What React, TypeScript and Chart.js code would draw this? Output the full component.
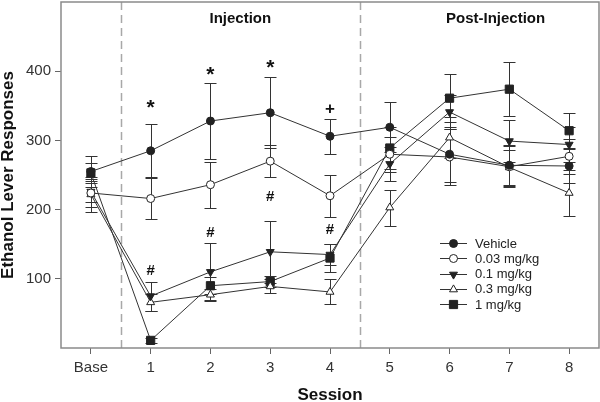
import React, { useEffect, useRef } from 'react';
import { Chart, registerables } from 'chart.js';

Chart.register(...registerables);

const sessionLabels = ['Base', '1', '2', '3', '4', '5', '6', '7', '8'];
const sessions = [0, 1, 2, 3, 4, 5, 6, 7, 8];

const vehicle = [255, 285, 328, 340, 306, 319, 280, 264, 263];
const vehicleErr = [22, 38, 55, 51, 25, 36, 40, 30, 25];
const dose003 = [224, 216, 236, 270, 220, 280, 276, 262, 277];
const dose003Err = [20, 30, 33, 23, 30, 25, 40, 30, 25];
const dose01 = [226, 75, 110, 139, 135, 266, 341, 299, 294];
const dose01Err = [15, 21, 42, 45, 15, 25, 25, 30, 25];
const dose03 = [222, 66, 77, 89, 81, 203, 304, 261, 224];
const dose03Err = [25, 12, 8, 10, 18, 26, 30, 25, 33];
const dose1 = [253, 11, 90, 96, 130, 289, 361, 374, 314];
const dose1Err = [15, 4, 12, 8, 20, 30, 35, 39, 25];

const seriesNames = ['Vehicle', '0.03 mg/kg', '0.1 mg/kg', '0.3 mg/kg', '1 mg/kg'];

const yTicks = [100, 200, 300, 400];
const phaseBoundaries = [0.5, 4.5];
const phaseLabels = ['Injection', 'Post-Injection'];
const phaseLabelX = [2.5, 6.77];
const phaseLabelY = [476, 476];

const starSessions = [1, 2, 3];
const starValues = [352, 400, 410];
const plusSessions = [4];
const plusValues = [345];
const hashSessions = [1, 2, 3, 4];
const hashValues = [112, 167, 218, 171];

const ink = '#222';
const FONT = '"Liberation Sans", Arial, sans-serif';

function mk(label: string, vals: number[], errs: number[], style: any) {
  return {
    label,
    data: sessions.map((x, i) => ({ x, y: vals[i] })),
    errors: errs,
    borderColor: '#333',
    borderWidth: 1,
    pointBorderColor: ink,
    pointBorderWidth: 1,
    pointHoverRadius: style.pointRadius,
    tension: 0,
    ...style,
  };
}

function marker(ctx: CanvasRenderingContext2D, ds: any, x: number, y: number) {
  const r = ds.pointRadius;
  ctx.save();
  ctx.fillStyle = ds.pointBackgroundColor;
  ctx.strokeStyle = ink;
  ctx.lineWidth = 1;
  ctx.beginPath();
  if (ds.pointStyle === 'circle') {
    ctx.arc(x, y, r, 0, Math.PI * 2);
  } else if (ds.pointStyle === 'rect') {
    const s = r * Math.SQRT1_2;
    ctx.rect(x - s, y - s, 2 * s, 2 * s);
  } else {
    const rot = ((ds.pointRotation || 0) * Math.PI) / 180;
    for (let k = 0; k < 3; k++) {
      const a = rot + (k * 2 * Math.PI) / 3;
      const px = x + Math.sin(a) * r;
      const py = y - Math.cos(a) * r;
      if (k === 0) ctx.moveTo(px, py);
      else ctx.lineTo(px, py);
    }
    ctx.closePath();
  }
  ctx.fill();
  ctx.stroke();
  ctx.restore();
}

const decorPlugin = {
  id: 'decor',
  beforeDatasetsDraw(chart: any) {
    const { ctx, chartArea } = chart;
    const xs = chart.scales.x;
    const ys = chart.scales.y;
    ctx.save();
    ctx.strokeStyle = '#a8a8a8';
    ctx.lineWidth = 1.5;
    ctx.setLineDash([8, 5]);
    phaseBoundaries.forEach((b) => {
      const px = Math.round(xs.getPixelForValue(b)) + 0.5;
      ctx.beginPath();
      ctx.moveTo(px, chartArea.top);
      ctx.lineTo(px, chartArea.bottom);
      ctx.stroke();
    });
    ctx.setLineDash([]);
    ctx.strokeStyle = '#333';
    ctx.lineWidth = 1;
    chart.data.datasets.forEach((ds: any) => {
      ds.data.forEach((p: any, i: number) => {
        const e = ds.errors[i];
        const px = Math.round(xs.getPixelForValue(p.x)) + 0.5;
        const top = Math.round(ys.getPixelForValue(p.y + e)) + 0.5;
        const bot = Math.round(ys.getPixelForValue(p.y - e)) + 0.5;
        ctx.beginPath();
        ctx.moveTo(px, top);
        ctx.lineTo(px, bot);
        ctx.moveTo(px - 6, top);
        ctx.lineTo(px + 6, top);
        ctx.moveTo(px - 6, bot);
        ctx.lineTo(px + 6, bot);
        ctx.stroke();
      });
    });
    ctx.restore();
  },
  afterDatasetsDraw(chart: any) {
    const { ctx, chartArea } = chart;
    const xs = chart.scales.x;
    const ys = chart.scales.y;
    ctx.save();
    ctx.strokeStyle = '#8a8a8a';
    ctx.lineWidth = 1.5;
    ctx.strokeRect(chartArea.left, chartArea.top, chartArea.right - chartArea.left, chartArea.bottom - chartArea.top);
    ctx.fillStyle = '#111';
    ctx.textAlign = 'center';
    ctx.textBaseline = 'middle';
    ctx.font = 'bold 15px ' + FONT;
    phaseLabels.forEach((t, i) => {
      ctx.fillText(t, xs.getPixelForValue(phaseLabelX[i]), ys.getPixelForValue(phaseLabelY[i]));
    });
    ctx.font = 'bold 21px ' + FONT;
    starSessions.forEach((s, i) => {
      ctx.fillText('*', xs.getPixelForValue(s), ys.getPixelForValue(starValues[i]) + 4);
    });
    ctx.font = 'bold 17px ' + FONT;
    plusSessions.forEach((s, i) => {
      ctx.fillText('+', xs.getPixelForValue(s), ys.getPixelForValue(plusValues[i]));
    });
    ctx.font = 'bold 15px ' + FONT;
    hashSessions.forEach((s, i) => {
      ctx.fillText('#', xs.getPixelForValue(s), ys.getPixelForValue(hashValues[i]));
    });
    // legend
    const lx0 = chartArea.left + 379;
    const lx1 = lx0 + 27;
    const tx = lx0 + 35;
    let ly = 243;
    ctx.font = '13px ' + FONT;
    ctx.textAlign = 'left';
    chart.data.datasets.forEach((ds: any, i: number) => {
      ctx.strokeStyle = '#333';
      ctx.lineWidth = 1;
      ctx.beginPath();
      ctx.moveTo(lx0, Math.round(ly) + 0.5);
      ctx.lineTo(lx1, Math.round(ly) + 0.5);
      ctx.stroke();
      marker(ctx, ds, (lx0 + lx1) / 2, Math.round(ly) + 0.5);
      ctx.fillStyle = '#222';
      ctx.fillText(seriesNames[i], tx, ly + 1);
      ly += 15.3;
    });
    ctx.restore();
  },
};

export default function App() {
  const ref = useRef<HTMLCanvasElement>(null);
  useEffect(() => {
    if (!ref.current) return;
    const datasets = [
      mk(seriesNames[0], vehicle, vehicleErr, { pointStyle: 'circle', pointRadius: 4, pointBackgroundColor: ink }),
      mk(seriesNames[1], dose003, dose003Err, { pointStyle: 'circle', pointRadius: 4, pointBackgroundColor: '#fff' }),
      mk(seriesNames[2], dose01, dose01Err, { pointStyle: 'triangle', pointRadius: 4.6, pointRotation: 180, pointBackgroundColor: ink }),
      mk(seriesNames[3], dose03, dose03Err, { pointStyle: 'triangle', pointRadius: 4.6, pointBackgroundColor: '#fff' }),
      mk(seriesNames[4], dose1, dose1Err, { pointStyle: 'rect', pointRadius: 5.8, pointBackgroundColor: ink }),
    ];
    const chart = new Chart(ref.current, {
      type: 'line',
      data: { datasets: datasets as any },
      options: {
        animation: false,
        responsive: false,
        devicePixelRatio: 1,
        layout: { autoPadding: false, padding: { top: 2, right: 1, left: 0, bottom: 0 } },
        plugins: { legend: { display: false }, tooltip: { enabled: false } },
        scales: {
          x: {
            type: 'linear',
            min: -0.5,
            max: 8.5,
            afterBuildTicks: (s: any) => {
              s.ticks = sessions.map((v) => ({ value: v }));
            },
            afterFit: (s: any) => {
              s.height = 54;
              s.paddingLeft = 0;
              s.paddingRight = 0;
            },
            grid: { display: true, drawOnChartArea: false, drawTicks: true, tickLength: 6, color: '#666', lineWidth: 1 },
            border: { display: false },
            ticks: {
              autoSkip: false,
              maxRotation: 0,
              padding: 5,
              color: '#333',
              font: { size: 15, family: FONT },
              callback: (v: any) => sessionLabels[sessions.indexOf(Number(v))] ?? '',
            },
            title: {
              display: true,
              text: 'Session',
              color: '#111',
              padding: { top: 0, bottom: -1.5 },
              font: { size: 17, weight: 'bold', lineHeight: 1, family: FONT },
            },
          },
          y: {
            min: 0,
            max: 500,
            afterBuildTicks: (s: any) => {
              s.ticks = yTicks.map((v) => ({ value: v }));
            },
            afterFit: (s: any) => {
              s.width = 61;
              s.paddingTop = 0;
              s.paddingBottom = 0;
            },
            grid: { display: true, drawOnChartArea: false, drawTicks: true, tickLength: 6, color: '#666', lineWidth: 1 },
            border: { display: false },
            ticks: {
              padding: 4,
              color: '#333',
              font: { size: 15, family: FONT },
            },
            title: {
              display: true,
              text: 'Ethanol Lever Responses',
              color: '#111',
              padding: { top: 0, bottom: 0 },
              font: { size: 17, weight: 'bold', lineHeight: 1, family: FONT },
            },
          },
        },
      },
      plugins: [decorPlugin as any],
    });
    return () => chart.destroy();
  }, []);
  return (
    <div style={{ position: 'absolute', left: 0, top: 0, width: 600, height: 402, background: '#fff' }}>
      <canvas ref={ref} width={600} height={402} />
    </div>
  );
}
